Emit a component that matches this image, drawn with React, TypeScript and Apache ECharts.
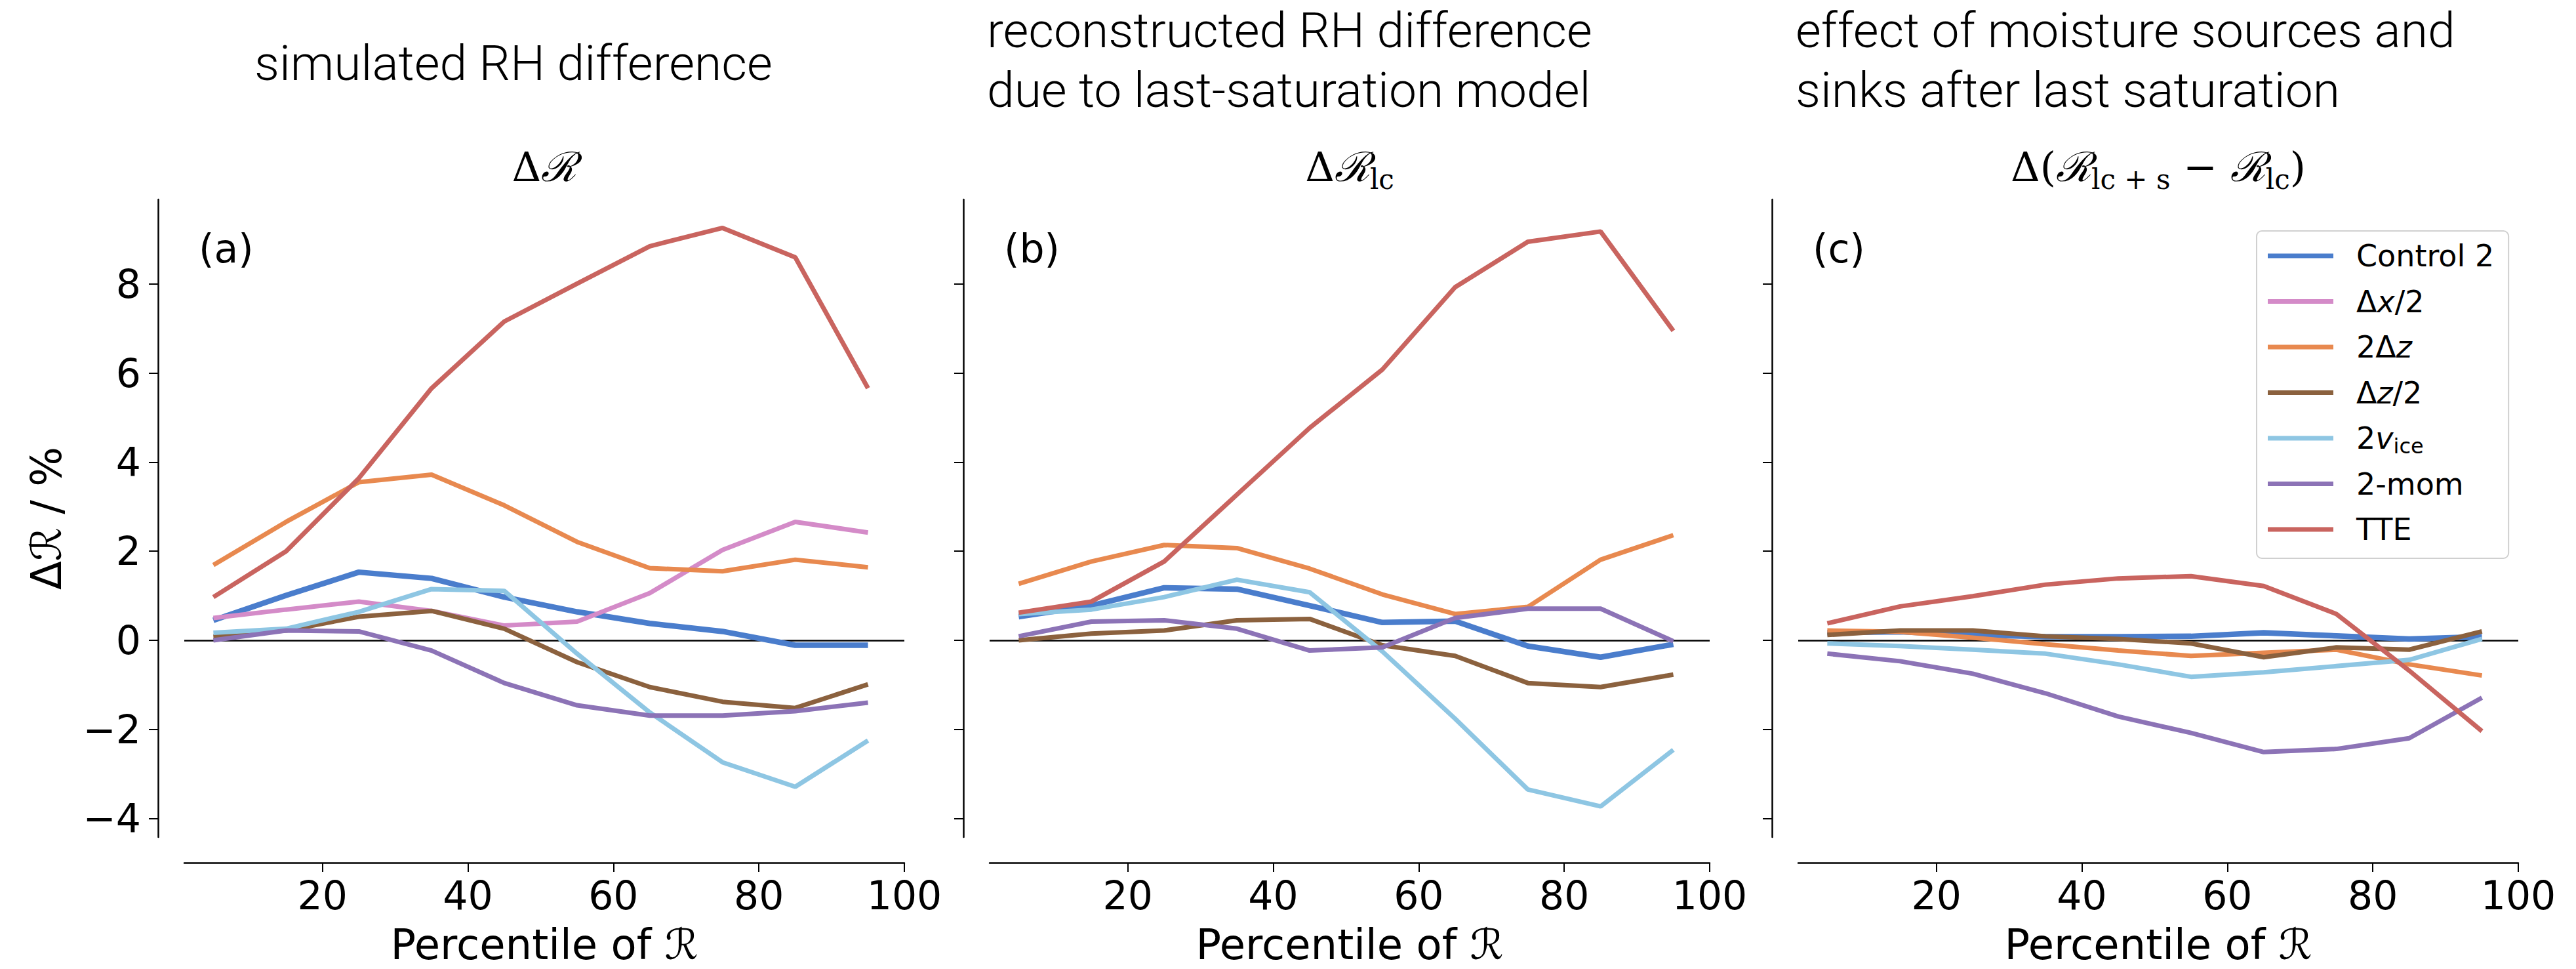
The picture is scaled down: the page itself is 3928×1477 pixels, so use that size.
import React, { useEffect, useRef } from "react";
import * as echarts from "echarts";

const percentiles = [5, 15, 25, 35, 45, 55, 65, 75, 85, 95];
const xTickValues = [20, 40, 60, 80, 100];
const yTickValues = [-4, -2, 0, 2, 4, 6, 8];

const seriesNames = ["Control 2", "Δx/2", "2Δz", "Δz/2", "2v_ice", "2-mom", "TTE"];
const seriesColors = ["#4a7dcc", "#d48bc8", "#e8894f", "#8b613e", "#8ec6e3", "#8c73b6", "#c9645f"];
const seriesWidths = [8.5, 7, 7, 7, 7, 7, 7];

// Panel (a): simulated RH difference
const aControl2 = [0.45, 1.01, 1.53, 1.39, 0.97, 0.64, 0.38, 0.2, -0.11, -0.11];
const aDx2 = [0.5, 0.69, 0.87, 0.66, 0.33, 0.42, 1.06, 2.03, 2.66, 2.42];
const a2Dz = [1.69, 2.66, 3.55, 3.72, 3.03, 2.21, 1.62, 1.55, 1.81, 1.64];
const aDz2 = [0.08, 0.22, 0.53, 0.66, 0.26, -0.49, -1.05, -1.38, -1.52, -0.99];
const a2vice = [0.17, 0.26, 0.64, 1.15, 1.11, -0.3, -1.62, -2.74, -3.29, -2.25];
const a2mom = [0.0, 0.22, 0.2, -0.23, -0.96, -1.46, -1.69, -1.69, -1.59, -1.4];
const aTTE = [0.97, 2.0, 3.64, 5.66, 7.16, 8.01, 8.85, 9.26, 8.6, 5.66];

// Panel (b): reconstructed RH difference (last-saturation model)
const bControl2 = [0.53, 0.78, 1.18, 1.15, 0.78, 0.4, 0.43, -0.13, -0.38, -0.09];
const bDx2: (number | null)[] = [];
const b2Dz = [1.27, 1.77, 2.14, 2.07, 1.61, 1.03, 0.59, 0.75, 1.81, 2.36];
const bDz2 = [0.0, 0.15, 0.22, 0.45, 0.48, -0.11, -0.35, -0.96, -1.05, -0.77];
const b2vice = [0.59, 0.69, 0.97, 1.36, 1.08, -0.25, -1.76, -3.35, -3.73, -2.46];
const b2mom = [0.09, 0.42, 0.45, 0.26, -0.23, -0.16, 0.5, 0.71, 0.71, -0.02];
const bTTE = [0.62, 0.87, 1.77, 3.27, 4.77, 6.08, 7.93, 8.95, 9.18, 6.95];

// Panel (c): effect of moisture sources and sinks after last saturation
const cControl2 = [0.17, 0.19, 0.12, 0.08, 0.08, 0.09, 0.17, 0.1, 0.03, 0.08];
const cDx2: (number | null)[] = [];
const c2Dz = [0.22, 0.19, 0.06, -0.09, -0.23, -0.35, -0.28, -0.21, -0.54, -0.79];
const cDz2 = [0.12, 0.22, 0.22, 0.09, 0.03, -0.07, -0.38, -0.16, -0.21, 0.2];
const c2vice = [-0.07, -0.13, -0.21, -0.3, -0.54, -0.82, -0.72, -0.58, -0.44, 0.03];
const c2mom = [-0.3, -0.47, -0.75, -1.19, -1.71, -2.08, -2.51, -2.44, -2.2, -1.29];
const cTTE = [0.38, 0.76, 0.99, 1.25, 1.39, 1.44, 1.22, 0.59, -0.68, -2.04];

const panelData = [
  [aControl2, aDx2, a2Dz, aDz2, a2vice, a2mom, aTTE],
  [bControl2, bDx2, b2Dz, bDz2, b2vice, b2mom, bTTE],
  [cControl2, cDx2, c2Dz, cDz2, c2vice, c2mom, cTTE],
];

const panelLetters = ["(a)", "(b)", "(c)"];
const panelHeadings = [
  ["simulated RH difference"],
  ["reconstructed RH difference", "due to last-saturation model"],
  ["effect of moisture sources and", "sinks after last saturation"],
];
const panelMath = [
  "Δ{r|ℛ}",
  "Δ{r|ℛ}{sub|lc}",
  "Δ({r|ℛ}{sub|lc + s} − {r|ℛ}{sub|lc})",
];
const legendLabels: Record<string, string> = {
  "Control 2": "Control 2",
  "Δx/2": "Δ{i|x}/2",
  "2Δz": "2Δ{i|z}",
  "Δz/2": "Δ{i|z}/2",
  "2v_ice": "2{i|v}{sub|ice}",
  "2-mom": "2-mom",
  TTE: "TTE",
};

const Y_MIN = -4.42;
const Y_MAX = 9.9;
const X_MIN = 1;
const X_MAX = 100;

const W = 3928;
const H = 1477;
const gridLefts = [281, 1509, 2742];
const GRID_TOP = 304;
const GRID_H = 972;
const GRID_W = 1098;

const SANS = "DejaVu Sans";
const TITLE_FONT = "Roboto";

export default function App() {
  const ref = useRef<HTMLDivElement>(null);
  useEffect(() => {
    if (!ref.current) return;
    const chart = echarts.init(ref.current, undefined, { renderer: "svg" });

    const grids = gridLefts.map((l) => ({ left: l, top: GRID_TOP, width: GRID_W, height: GRID_H }));
    const xAxes = gridLefts.map((_, i) => ({
      type: "value",
      gridIndex: i,
      min: X_MIN,
      max: X_MAX,
      offset: 39,
      axisLine: { show: true, onZero: false, lineStyle: { color: "#000", width: 2.5 } },
      axisTick: { show: true, length: 14, lineStyle: { color: "#000", width: 2 }, customValues: xTickValues },
      axisLabel: { show: true, customValues: xTickValues, color: "#000", fontFamily: SANS, fontSize: 60, margin: 20 },
      splitLine: { show: false },
    }));
    const yAxes = gridLefts.map((_, i) => ({
      type: "value",
      gridIndex: i,
      min: Y_MIN,
      max: Y_MAX,
      offset: 40,
      axisLine: { show: true, onZero: false, lineStyle: { color: "#000", width: 2.5 } },
      axisTick: { show: true, length: 14, lineStyle: { color: "#000", width: 2 }, customValues: yTickValues },
      axisLabel: {
        show: i === 0,
        customValues: yTickValues,
        color: "#000",
        fontFamily: SANS,
        fontSize: 60,
        margin: 26,
        formatter: (v: number) => String(v).replace("-", "−"),
      },
      splitLine: { show: false },
    }));

    const series: any[] = [];
    panelData.forEach((arrs, p) => {
      arrs.forEach((vals, k) => {
        if (!vals.length) return;
        series.push({
          type: "line",
          name: seriesNames[k],
          xAxisIndex: p,
          yAxisIndex: p,
          data: percentiles.map((x, j) => [x, vals[j]]),
          showSymbol: false,
          symbol: "none",
          lineStyle: { color: seriesColors[k], width: seriesWidths[k] },
          itemStyle: { color: seriesColors[k] },
          z: 3 + k,
          markLine:
            k === 0
              ? {
                  silent: true,
                  symbol: ["none", "none"],
                  label: { show: false },
                  lineStyle: { color: "#000", width: 2.5, type: "solid" },
                  data: [{ yAxis: 0 }],
                  z: 2,
                }
              : undefined,
        });
      });
    });

    const graphics: any[] = [];
    const panelCenters = gridLefts.map((l) => l + GRID_W / 2);
    // headings
    panelHeadings.forEach((lines, p) => {
      const left = p === 0 ? 388 : gridLefts[p] - 4;
      const ys = lines.length === 1 ? [96] : [46, 137];
      lines.forEach((t, j) => {
        graphics.push({
          type: "text",
          x: left,
          y: ys[j],
          style: {
            text: t,
            fontFamily: TITLE_FONT,
            fontWeight: 300,
            fontSize: 75,
            fill: "#000",
            textAlign: "left",
            textVerticalAlign: "middle",
          },
        });
      });
    });
    // math subtitles
    panelMath.forEach((t, p) => {
      graphics.push({
        type: "text",
        x: panelCenters[p],
        y: 254,
        style: {
          text: t,
          fontFamily: "DejaVu Serif",
          fontSize: 62,
          lineHeight: 80,
          fill: "#000",
          textAlign: "center",
          textVerticalAlign: "middle",
          rich: {
            r: { fontFamily: "DejaVu Serif", fontSize: 62, lineHeight: 80, fontStyle: "italic", fill: "#000" },
            sub: { fontFamily: "DejaVu Serif", fontSize: 42, lineHeight: 42, fill: "#000", padding: [38, 0, 0, 0] },
          },
        },
      });
    });
    // panel letters
    panelLetters.forEach((t, p) => {
      graphics.push({
        type: "text",
        x: gridLefts[p] + 22,
        y: 379,
        style: { text: t, fontFamily: SANS, fontSize: 60, fill: "#000", textAlign: "left", textVerticalAlign: "middle" },
      });
    });
    // axis names
    panelCenters.forEach((cx) => {
      graphics.push({
        type: "text",
        x: cx,
        y: 1440,
        style: {
          text: "Percentile of ℛ",
          fontFamily: SANS,
          fontSize: 64,
          fill: "#000",
          textAlign: "center",
          textVerticalAlign: "middle",
        },
      });
    });
    graphics.push({
      type: "text",
      x: 71,
      y: GRID_TOP + GRID_H / 2,
      rotation: Math.PI / 2,
      style: {
        text: "Δℛ / %",
        fontFamily: SANS,
        fontSize: 64,
        fill: "#000",
        textAlign: "center",
        textVerticalAlign: "middle",
      },
    });

    chart.setOption({
      animation: false,
      backgroundColor: "#fff",
      grid: grids,
      xAxis: xAxes,
      yAxis: yAxes,
      series,
      legend: {
        show: true,
        orient: "vertical",
        left: 3441,
        top: 352,
        data: seriesNames.map((n) => ({ name: n, icon: "rect" })),
        itemWidth: 100,
        itemHeight: 7,
        itemGap: 13.5,
        padding: [10, 22, 16, 17],
        backgroundColor: "rgba(255,255,255,0.85)",
        borderColor: "#d0d0d0",
        borderWidth: 2,
        borderRadius: 8,
        formatter: (name: string) => legendLabels[name] || name,
        textStyle: {
          fontFamily: SANS,
          fontSize: 46,
          lineHeight: 56,
          color: "#000",
          padding: [0, 0, 0, 30],
          rich: {
            i: { fontFamily: SANS, fontSize: 46, lineHeight: 56, fontStyle: "italic", color: "#000" },
            sub: { fontFamily: SANS, fontSize: 32, lineHeight: 32, color: "#000", padding: [24, 0, 0, 0] },
          },
        },
      },
      graphic: graphics,
    });

    return () => chart.dispose();
  }, []);

  return (
    <div
      ref={ref}
      style={{ position: "fixed", left: 0, top: 0, width: W, height: H, background: "#fff" }}
    />
  );
}
